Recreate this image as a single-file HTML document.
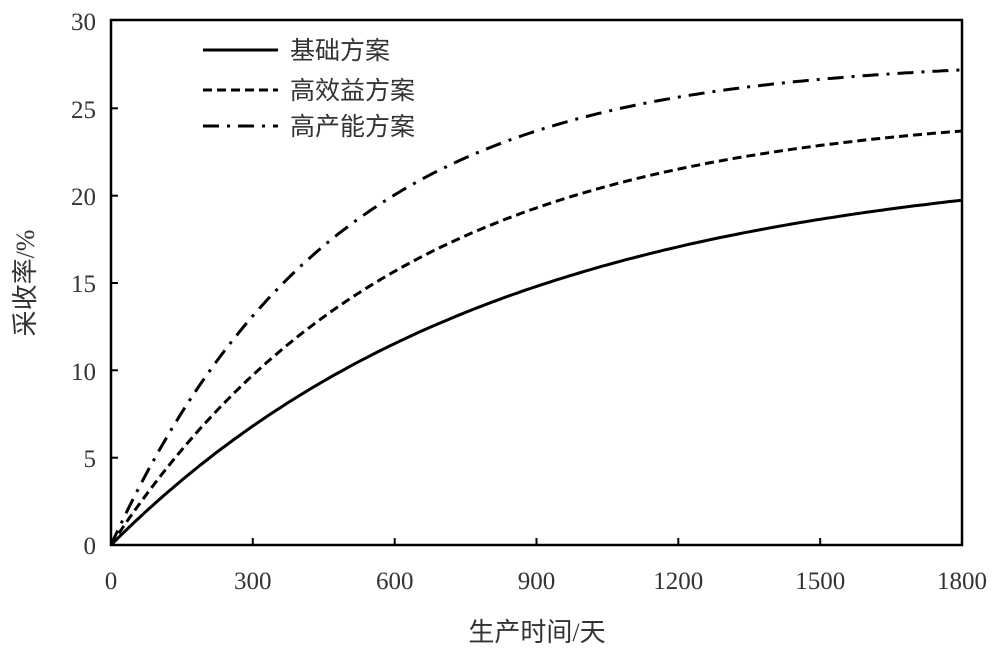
<!DOCTYPE html>
<html><head><meta charset="utf-8"><style>
html,body{margin:0;padding:0;background:#fff;}
svg text{font-family:"Liberation Serif","Noto Sans CJK SC",serif;fill:#333;}
</style></head><body>
<svg id="s" width="1000" height="651" viewBox="0 0 1000 651" xmlns="http://www.w3.org/2000/svg">
<rect x="111" y="20" width="851" height="525" fill="none" stroke="#000" stroke-width="2.5"/>
<g stroke="#000" stroke-width="2">
<line x1="111" y1="457.7" x2="118" y2="457.7"/><line x1="111" y1="370.3" x2="118" y2="370.3"/>
<line x1="111" y1="283" x2="118" y2="283"/><line x1="111" y1="195.7" x2="118" y2="195.7"/>
<line x1="111" y1="108.3" x2="118" y2="108.3"/>
<line x1="252.8" y1="545" x2="252.8" y2="538"/><line x1="394.7" y1="545" x2="394.7" y2="538"/>
<line x1="536.5" y1="545" x2="536.5" y2="538"/><line x1="678.3" y1="545" x2="678.3" y2="538"/>
<line x1="820.2" y1="545" x2="820.2" y2="538"/>
</g>
<g font-size="25" text-anchor="end">
<text x="96" y="554">0</text><text x="96" y="467">5</text><text x="96" y="380">10</text>
<text x="96" y="292">15</text><text x="96" y="205">20</text><text x="96" y="118">25</text><text x="96" y="30">30</text>
</g>
<g font-size="25" text-anchor="middle">
<text x="111" y="589">0</text><text x="252.8" y="589">300</text><text x="394.7" y="589">600</text>
<text x="536.5" y="589">900</text><text x="678.3" y="589">1200</text><text x="820.2" y="589">1500</text><text x="962" y="589">1800</text>
</g>
<text x="537" y="641" font-size="26" text-anchor="middle">生产时间/天</text>
<text transform="translate(34,283) rotate(-90)" font-size="26" text-anchor="middle">采收率/%</text>
<path id="p1" fill="none" stroke="#000" stroke-width="3"/>
<path id="p2" fill="none" stroke="#000" stroke-width="3" stroke-dasharray="9,5"/>
<path id="p3" fill="none" stroke="#000" stroke-width="3" stroke-dasharray="16,8,3,8"/>
<line x1="203" y1="50" x2="278" y2="50" stroke="#000" stroke-width="3"/>
<line x1="203" y1="90" x2="278" y2="90" stroke="#000" stroke-width="3" stroke-dasharray="9,5"/>
<line x1="203" y1="126" x2="278" y2="126" stroke="#000" stroke-width="3" stroke-dasharray="16,8,3,8"/>
<g font-size="25"><text x="290" y="59">基础方案</text><text x="290" y="99">高效益方案</text><text x="290" y="135">高产能方案</text></g>
</svg>
<script>
function mk(id,A,tau){var d="";for(var t=0;t<=1800;t+=10){var v=A*(1-Math.exp(-t/tau));var x=111+t*851/1800,y=545-v*17.47;d+=(t?"L":"M")+x.toFixed(1)+","+y.toFixed(1);}document.getElementById(id).setAttribute("d",d);}
mk("p1",22.2,819);mk("p2",25.0,609);mk("p3",27.8,470);
</script>
</body></html>
